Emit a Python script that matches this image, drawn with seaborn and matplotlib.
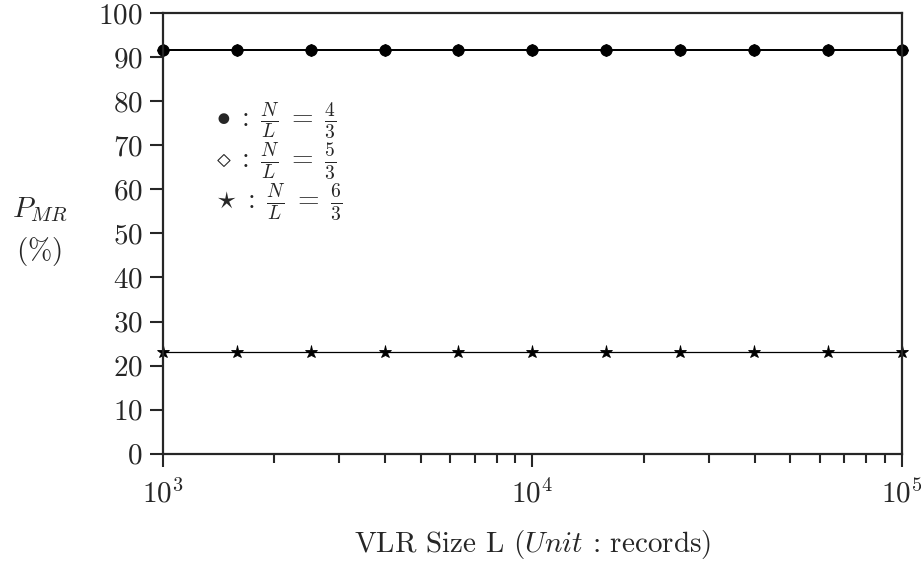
import numpy as np
import pandas as pd
import seaborn as sns
import matplotlib
matplotlib.use('Agg')
import matplotlib.pyplot as plt
from matplotlib.ticker import LogLocator, LogFormatterSciNotation, NullFormatter

# VLR sizes (records) and P_MR values
vlr_size = [1000, 1585, 2512, 3981, 6310, 10000, 15849, 25119, 39811, 63096, 100000]
pmr_4_3 = [91.5, 91.5, 91.5, 91.5, 91.5, 91.5, 91.5, 91.5, 91.5, 91.5, 91.5]
pmr_5_3 = [91.5, 91.5, 91.5, 91.5, 91.5, 91.5, 91.5, 91.5, 91.5, 91.5, 91.5]
pmr_6_3 = [23.0, 23.0, 23.0, 23.0, 23.0, 23.0, 23.0, 23.0, 23.0, 23.0, 23.0]
y_ticks = [0, 10, 20, 30, 40, 50, 60, 70, 80, 90, 100]

sns.set_style('ticks')
plt.rcParams['font.family'] = ['cmr10', 'DejaVu Serif']
plt.rcParams['mathtext.fontset'] = 'cm'
plt.rcParams['axes.unicode_minus'] = False
plt.rcParams['axes.formatter.use_mathtext'] = True

df = pd.DataFrame({'L': vlr_size, 'a': pmr_4_3, 'b': pmr_5_3, 'c': pmr_6_3})

fig = plt.figure(figsize=(9.21, 5.63), dpi=100)
ax = fig.add_axes([0.177, 0.194, 0.802, 0.783])

sns.lineplot(data=df, x='L', y='b', ax=ax, color='black', lw=1.3, marker='D',
             markersize=6, markerfacecolor='white', markeredgecolor='black', clip_on=False)
sns.lineplot(data=df, x='L', y='a', ax=ax, color='black', lw=1.3, marker='o',
             markersize=8, markeredgecolor='black', clip_on=False)
sns.lineplot(data=df, x='L', y='c', ax=ax, color='black', lw=0.9, marker='*',
             markersize=9.5, markeredgewidth=0.6, markeredgecolor='black', clip_on=False)

ax.set_xscale('log')
ax.set_xlim(1000, 100000)
ax.set_ylim(0, 100)
ax.set_yticks(y_ticks)
ax.xaxis.set_major_locator(LogLocator(base=10, numticks=5))
ax.xaxis.set_major_formatter(LogFormatterSciNotation())
ax.xaxis.set_minor_locator(LogLocator(base=10, subs=np.arange(2, 10), numticks=20))
ax.xaxis.set_minor_formatter(NullFormatter())

for s in ax.spines.values():
    s.set_linewidth(1.6)
ax.tick_params(which='major', direction='out', length=9.5, width=1.5, labelsize=21, pad=5)
ax.tick_params(which='minor', direction='out', length=6.5, width=1.5)
ax.tick_params(axis='x', which='major', pad=9)

ax.set_xlabel(r'VLR Size L ($Unit$ : records)', fontsize=21, labelpad=14)
ax.set_ylabel('')
fig.text(0.043, 0.628, r'$P_{MR}$', fontsize=21, ha='center', va='center')
fig.text(0.042, 0.554, r'$(\%)$', fontsize=21, ha='center', va='center')

legend_lines = [r'$\bullet\;:\;\frac{N}{L}\;=\;\frac{4}{3}$',
                r'$\diamond\;:\;\frac{N}{L}\;=\;\frac{5}{3}$',
                r'$\star\;:\;\frac{N}{L}\;=\;\frac{6}{3}$']
for i, t in enumerate(legend_lines):
    ax.text(0.072, 0.758 - i * 0.093, t, transform=ax.transAxes, fontsize=20, va='center', ha='left')

fig.savefig('out.png', dpi=100)
